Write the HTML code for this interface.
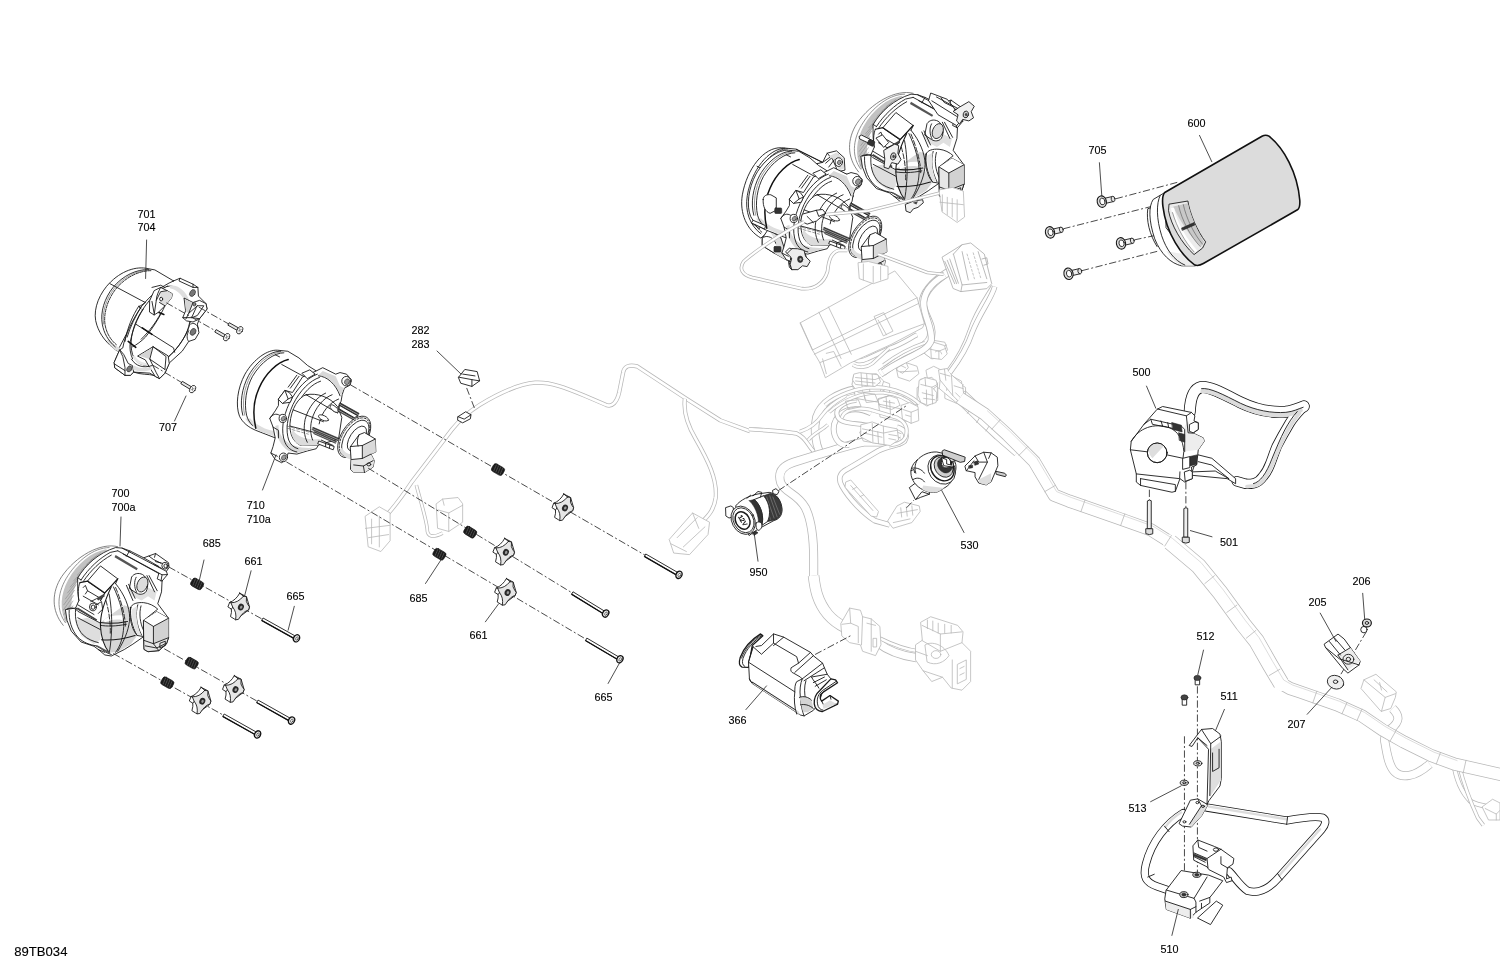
<!DOCTYPE html>
<html><head><meta charset="utf-8"><title>89TB034</title>
<style>
html,body{margin:0;padding:0;background:#fff}
svg{display:block;will-change:transform}
text{font-family:"Liberation Sans",Arial,sans-serif;font-size:10.8px;fill:#000;stroke:#000;stroke-width:.12px}
path,line,ellipse,circle,polyline,polygon,rect{vector-effect:non-scaling-stroke;stroke-linecap:round;stroke-linejoin:round}
.k{fill:none;stroke:#1a1a1a;stroke-width:.9}
.k2{fill:none;stroke:#111;stroke-width:1.3}
.kt{fill:none;stroke:#555;stroke-width:.6}
.w{fill:#fff;stroke:#1a1a1a;stroke-width:.9}
.f{fill:#fff;stroke:#1a1a1a;stroke-width:.9}
.fd{fill:#cfcfcf;stroke:#1a1a1a;stroke-width:.9}
.fn{fill:#dedede;stroke:none}
.fl{fill:#ededed;stroke:none}
.b{fill:#333;stroke:#222;stroke-width:.6}
.g{fill:none;stroke:#b8b8b8;stroke-width:.8}
.gw{fill:#fff;stroke:#b8b8b8;stroke-width:.8}
.gl{fill:none;stroke:#cfcfcf;stroke-width:.7}
.d{fill:none;stroke:#2a2a2a;stroke-width:.85;stroke-dasharray:7.3 2.4 2 2.4;stroke-linecap:butt}
.l{fill:none;stroke:#222;stroke-width:.8}
</style></head><body>
<svg width="1500" height="972" viewBox="0 0 1500 972">
<rect width="1500" height="972" fill="#fff" stroke="none"/>
<!-- 05_harnA.svg -->
<g id="harnA" transform="translate(350,300) scale(0.308642)">
<path d="M215 600 C225 640 245 700 250 740 C250 770 270 770 300 755" fill="none" stroke="#b8b8b8" stroke-width="3.6" style="stroke-linecap:butt"/>
<path d="M215 600 C225 640 245 700 250 740 C250 770 270 770 300 755" fill="none" stroke="#fff" stroke-width="2.1" style="stroke-linecap:butt"/>
<path d="M95 720 C130 690 160 650 200 590 L330 420 C350 395 380 365 420 340 C470 310 540 272 600 268 C650 265 700 285 760 310 L830 340 C850 348 865 330 872 300 L885 235 C888 215 905 208 930 215 L1090 320 L1200 390 L1296 425" fill="none" stroke="#b8b8b8" stroke-width="4.2" style="stroke-linecap:butt"/>
<path d="M95 720 C130 690 160 650 200 590 L330 420 C350 395 380 365 420 340 C470 310 540 272 600 268 C650 265 700 285 760 310 L830 340 C850 348 865 330 872 300 L885 235 C888 215 905 208 930 215 L1090 320 L1200 390 L1296 425" fill="none" stroke="#fff" stroke-width="2.7" style="stroke-linecap:butt"/>
<path d="M1085 320 C1080 360 1090 400 1120 450 C1160 520 1190 580 1185 640 C1180 680 1160 700 1140 720" fill="none" stroke="#b8b8b8" stroke-width="4.2" style="stroke-linecap:butt"/>
<path d="M1085 320 C1080 360 1090 400 1120 450 C1160 520 1190 580 1185 640 C1180 680 1160 700 1140 720" fill="none" stroke="#fff" stroke-width="2.7" style="stroke-linecap:butt"/>
<path class="gw" d="M280 660 L300 645 L350 640 L365 660 L365 720 L320 750 L285 740 Z"/>
<path class="g" d="M285 680 L320 690 L365 665 M320 690 L320 750 M300 645 L305 665"/>
<path class="gw" d="M50 700 L95 670 L130 690 L130 780 L100 815 L60 800 Z"/>
<path class="g" d="M70 710 L70 790 M95 700 L95 800 M50 740 L130 730 M60 770 L125 760"/>
<path class="gw" d="M1035 775 L1110 690 L1165 720 L1160 760 L1100 825 L1050 820 Z"/>
<path class="g" d="M1060 770 L1125 705 M1080 800 L1150 735 M1040 790 L1090 815 M1110 690 L1130 740"/>
</g>
<!-- 06_harnDE.svg -->
<g id="harnD" transform="translate(760,380) scale(0.185185)">
<path d="M-60 265 C80 275 160 280 200 290 C250 310 260 360 290 385" fill="none" stroke="#b8b8b8" stroke-width="4.4" style="stroke-linecap:butt"/>
<path d="M-60 265 C80 275 160 280 200 290 C250 310 260 360 290 385" fill="none" stroke="#fff" stroke-width="2.8" style="stroke-linecap:butt"/>
<path d="M520 50 C420 70 330 120 305 200 C285 280 300 340 325 400" fill="none" stroke="#b8b8b8" stroke-width="8.5" style="stroke-linecap:butt"/>
<path d="M520 50 C420 70 330 120 305 200 C285 280 300 340 325 400" fill="none" stroke="#fff" stroke-width="6.9" style="stroke-linecap:butt"/>
<path d="M760 335 L560 335 C480 350 400 380 325 400 L180 445 C120 465 95 500 112 555 C135 610 200 610 245 690 C280 760 290 860 290 972 L290 1100" fill="none" stroke="#b8b8b8" stroke-width="9.0" style="stroke-linecap:butt"/>
<path d="M760 335 L560 335 C480 350 400 380 325 400 L180 445 C120 465 95 500 112 555 C135 610 200 610 245 690 C280 760 290 860 290 972 L290 1100" fill="none" stroke="#fff" stroke-width="7.4" style="stroke-linecap:butt"/>
<path d="M600 180 C500 130 420 170 400 240 C390 300 420 360 480 350" fill="none" stroke="#b8b8b8" stroke-width="6.0" style="stroke-linecap:butt"/>
<path d="M600 180 C500 130 420 170 400 240 C390 300 420 360 480 350" fill="none" stroke="#fff" stroke-width="4.4" style="stroke-linecap:butt"/>
<path d="M740 255 C785 268 800 300 780 330 C760 352 700 352 640 382 L470 482 C430 502 420 532 442 572 C480 642 560 722 620 760 L700 782" fill="none" stroke="#b8b8b8" stroke-width="5.5" style="stroke-linecap:butt"/>
<path d="M740 255 C785 268 800 300 780 330 C760 352 700 352 640 382 L470 482 C430 502 420 532 442 572 C480 642 560 722 620 760 L700 782" fill="none" stroke="#fff" stroke-width="3.9" style="stroke-linecap:butt"/>
<path d="M520 110 C440 120 400 160 420 200 C440 240 520 230 600 250 L760 300" fill="none" stroke="#b8b8b8" stroke-width="5.0" style="stroke-linecap:butt"/>
<path d="M520 110 C440 120 400 160 420 200 C440 240 520 230 600 250 L760 300" fill="none" stroke="#fff" stroke-width="3.4" style="stroke-linecap:butt"/>
<path class="gw" d="M465 550 L490 540 L640 710 L630 740 L600 735 L460 580 Z"/><path class="g" d="M490 570 L610 705 M500 590 L520 580 M540 630 L560 620"/>
<path class="gw" d="M690 760 L740 680 L780 660 L860 680 L865 710 L820 770 L720 800 Z"/><path class="g" d="M740 720 L850 700 M760 690 L765 740 M790 685 L795 735 M820 680 L825 730 M720 770 L810 750"/>
<path class="gw" d="M500 20 L620 -10 L700 20 L700 80 L640 120 L520 100 Z"/>
<path class="gw" d="M640 100 L760 70 L850 110 L850 180 L780 230 L650 200 Z"/>
<path class="g" d="M640 130 L780 160 L850 130 M780 160 L780 230 M700 110 L705 190 M520 50 L640 70 L700 40 M560 30 L565 100"/>
<path class="gw" d="M540 280 L610 250 L730 270 L740 320 L680 350 L560 330 Z"/>
<path class="g" d="M560 300 L680 320 L740 295 M620 265 L625 340 M660 270 L665 345"/>
<path class="gw" d="M850 40 L900 10 L960 40 L960 110 L900 140 L850 110 Z"/>
<path class="g" d="M870 60 L940 80 M880 90 L950 100 M900 10 L905 140"/>
<path d="M1030 40 C1100 100 1150 150 1200 200 L1296 290 L1400 380" fill="none" stroke="#b8b8b8" stroke-width="15.0" style="stroke-linecap:butt"/>
<path d="M1030 40 C1100 100 1150 150 1200 200 L1296 290 L1400 380" fill="none" stroke="#fff" stroke-width="13.4" style="stroke-linecap:butt"/>
<path class="gw" d="M1000 40 L1060 10 L1110 40 L1110 100 L1060 125 L1000 100 Z"/><path class="g" d="M1000 60 L1060 85 L1110 60 M1060 85 L1060 125 M1150 130 L1120 180 M1200 180 L1170 230 M1250 230 L1220 275"/>
</g>
<g id="harnE" transform="translate(780,270) scale(0.185185)">
<path d="M1155 90 C1120 150 1060 230 1030 330 C1000 420 950 500 915 545" fill="none" stroke="#b8b8b8" stroke-width="6.5" style="stroke-linecap:butt"/>
<path d="M1155 90 C1120 150 1060 230 1030 330 C1000 420 950 500 915 545" fill="none" stroke="#fff" stroke-width="4.9" style="stroke-linecap:butt"/>
<path d="M910 10 C830 60 775 120 770 180 C772 240 830 300 815 360 C800 420 700 440 600 520 L540 560" fill="none" stroke="#b8b8b8" stroke-width="8.5" style="stroke-linecap:butt"/>
<path d="M910 10 C830 60 775 120 770 180 C772 240 830 300 815 360 C800 420 700 440 600 520 L540 560" fill="none" stroke="#fff" stroke-width="6.9" style="stroke-linecap:butt"/>
<path d="M740 350 C700 370 660 400 600 420 L470 480 C430 500 400 490 390 460" fill="none" stroke="#b8b8b8" stroke-width="5.0" style="stroke-linecap:butt"/>
<path d="M740 350 C700 370 660 400 600 420 L470 480 C430 500 400 490 390 460" fill="none" stroke="#fff" stroke-width="3.4" style="stroke-linecap:butt"/>
<path class="gw" d="M110 285 L620 5 L740 150 L780 290 L770 312 L600 402 L380 502 L245 582 L215 500 L175 432 Z"/>
<path class="g" d="M175 432 L740 150 M185 455 L750 180 M215 500 L780 290 M110 285 L175 430 M210 228 L330 478 M262 200 L385 455 M510 250 L560 230 L610 330 L560 355 Z M530 270 L575 350 M250 450 L290 440 L330 520 M230 480 L250 560"/>
<path class="gw" d="M780 400 L830 380 L890 390 L905 430 L880 470 L820 480 L780 450 Z"/>
<path class="g" d="M800 410 L860 425 L900 405 M860 425 L860 475 M830 385 L835 420"/>
<path class="gw" d="M790 540 L830 520 L870 540 L980 600 L990 680 L950 715 L860 640 L800 600 Z"/>
<path class="g" d="M870 540 L860 640 M880 580 L960 640 L990 620 M960 640 L955 700 M910 570 L900 650"/>
<path class="gw" d="M760 590 L820 580 L850 610 L850 690 L790 700 L755 670 Z"/>
<path class="g" d="M770 620 L830 630 L850 610 M830 630 L830 695 M790 650 L830 655"/>
<path class="gw" d="M630 530 L680 500 L740 520 L750 560 L700 600 L640 580 Z"/>
<path class="gw" d="M400 570 L520 560 L560 600 L540 660 L420 660 L390 620 Z"/>
<path class="g" d="M410 600 L540 610 M440 570 L445 655 M480 565 L485 660 M650 550 L740 545"/>
</g>
<!-- 06b_harnP.svg -->
<g id="harnP" transform="translate(800,340) scale(0.138889)">
<path d="M600 180 C680 120 780 60 900 20" fill="none" stroke="#bcbcbc" stroke-width="3.6" style="stroke-linecap:butt"/>
<path d="M600 180 C680 120 780 60 900 20" fill="none" stroke="#fff" stroke-width="2.1" style="stroke-linecap:butt"/>
<path d="M620 215 C700 150 800 95 920 55" fill="none" stroke="#bcbcbc" stroke-width="3.6" style="stroke-linecap:butt"/>
<path d="M620 215 C700 150 800 95 920 55" fill="none" stroke="#fff" stroke-width="2.1" style="stroke-linecap:butt"/>
<path d="M380 180 C420 205 480 200 520 170 L640 60" fill="none" stroke="#bcbcbc" stroke-width="3.6" style="stroke-linecap:butt"/>
<path d="M380 180 C420 205 480 200 520 170 L640 60" fill="none" stroke="#fff" stroke-width="2.1" style="stroke-linecap:butt"/>
<path d="M0 660 C60 640 120 600 160 540 C200 480 260 440 330 400" fill="none" stroke="#bcbcbc" stroke-width="4.0" style="stroke-linecap:butt"/>
<path d="M0 660 C60 640 120 600 160 540 C200 480 260 440 330 400" fill="none" stroke="#fff" stroke-width="2.5" style="stroke-linecap:butt"/>
<path d="M60 720 C100 670 160 650 200 610" fill="none" stroke="#bcbcbc" stroke-width="3.6" style="stroke-linecap:butt"/>
<path d="M60 720 C100 670 160 650 200 610" fill="none" stroke="#fff" stroke-width="2.1" style="stroke-linecap:butt"/>
<path d="M300 560 C320 500 400 480 500 500 L700 560 C760 590 780 640 760 700 C740 740 700 750 640 760" fill="none" stroke="#bcbcbc" stroke-width="4.0" style="stroke-linecap:butt"/>
<path d="M300 560 C320 500 400 480 500 500 L700 560 C760 590 780 640 760 700 C740 740 700 750 640 760" fill="none" stroke="#fff" stroke-width="2.5" style="stroke-linecap:butt"/>
<path d="M210 520 C300 440 440 370 600 380 C700 390 780 430 830 480" fill="none" stroke="#bcbcbc" stroke-width="3.6" style="stroke-linecap:butt"/>
<path d="M210 520 C300 440 440 370 600 380 C700 390 780 430 830 480" fill="none" stroke="#fff" stroke-width="2.1" style="stroke-linecap:butt"/>
<path d="M180 470 C260 400 400 340 560 340 C680 345 800 400 860 460" fill="none" stroke="#bcbcbc" stroke-width="4.0" style="stroke-linecap:butt"/>
<path d="M180 470 C260 400 400 340 560 340 C680 345 800 400 860 460" fill="none" stroke="#fff" stroke-width="2.5" style="stroke-linecap:butt"/>
<path class="gw" d="M390 245 L430 235 L560 250 L580 300 L540 335 L400 320 L380 290 Z"/>
<path class="g" d="M400 270 L540 285 L580 270 M440 240 L445 322 M480 245 L485 328 M520 248 L525 332 M400 295 L540 310"/>
<path class="gw" d="M860 290 L900 270 L980 290 L990 330 L960 350 L985 380 L980 450 L920 470 L870 450 L850 400 Z"/>
<path class="g" d="M870 320 L950 340 L990 320 M900 270 L905 330 M880 380 L960 400 M890 420 L970 430 M950 340 L955 460 M910 360 L912 460"/>
<path class="gw" d="M1000 215 L1060 205 L1090 250 L1170 320 L1180 400 L1140 440 L1100 400 L1010 290 Z"/>
<path class="g" d="M1010 240 L1080 260 M1090 250 L1100 400 M1110 330 L1175 350 M1120 380 L1160 420 M1040 210 L1050 290"/>
<path class="gw" d="M440 610 L520 590 L600 620 L700 640 L710 720 L650 760 L520 740 L440 700 Z"/>
<path class="g" d="M450 640 L600 670 L700 650 M600 620 L605 750 M520 600 L525 735 M560 660 L565 745 M640 680 L700 690 M640 710 L690 720 M460 670 L590 700"/>
<path class="gw" d="M730 470 L790 450 L850 480 L855 580 L800 600 L740 570 Z"/>
<path class="g" d="M740 500 L800 520 L850 500 M800 520 L800 600 M760 540 L795 550"/>
<path class="gw" d="M900 40 L960 15 L1040 40 L1060 100 L1020 140 L940 130 L900 100 Z"/>
<path class="g" d="M910 60 L1000 80 L1050 60 M1000 80 L1000 135 M940 30 L945 125 M975 85 C990 70 1020 80 1020 100"/>
<path class="g" d="M560 430 L640 400 L700 420 L720 470 L660 500 L580 480 Z M600 440 L680 455 M620 410 L625 490 M700 170 L760 150 L780 200 L740 240 L700 220 Z M720 180 L760 200 M460 380 L540 390 L560 440 L480 450 Z M330 440 L420 430 L440 480 L350 500 Z"/>
</g>
<!-- 07_trunkR.svg -->
<g id="trunkR">
<g transform="translate(1300,640) scale(0.185185)">
<path d="M500 370 C540 410 540 440 490 480 C460 500 450 520 460 560 C470 620 480 680 510 710 C550 750 620 740 700 670" fill="none" stroke="#b8b8b8" stroke-width="9.0" style="stroke-linecap:butt"/>
<path d="M500 370 C540 410 540 440 490 480 C460 500 450 520 460 560 C470 620 480 680 510 710 C550 750 620 740 700 670" fill="none" stroke="#fff" stroke-width="7.5" style="stroke-linecap:butt"/>
<path d="M830 660 C840 740 870 820 920 870 C950 890 980 890 1010 900" fill="none" stroke="#b8b8b8" stroke-width="5.0" style="stroke-linecap:butt"/>
<path d="M830 660 C840 740 870 820 920 870 C950 890 980 890 1010 900" fill="none" stroke="#fff" stroke-width="3.5" style="stroke-linecap:butt"/>
<path d="M860 680 C880 760 900 830 960 960 L990 1000" fill="none" stroke="#b8b8b8" stroke-width="4.0" style="stroke-linecap:butt"/>
<path d="M860 680 C880 760 900 830 960 960 L990 1000" fill="none" stroke="#fff" stroke-width="2.5" style="stroke-linecap:butt"/>
<path class="gw" d="M330 260 L345 215 L410 185 L520 280 L515 310 L490 370 L440 385 Z"/><path class="g" d="M345 215 L460 310 L440 385 M460 310 L515 290 M400 215 L470 280 M430 230 L440 270"/>
<path class="gw" d="M985 900 L1040 860 L1080 880 L1080 972 L1020 972 Z"/><path class="g" d="M1000 910 L1060 940 L1080 920 M1060 940 L1060 972"/>
</g>
<path d="M960.0 398.0 L984.9 414.3 L1007.2 434.6 L1034.3 461.7 L1054.1 495.1 L1068.9 501.0 L1115.8 517.3 L1150.4 529.6 L1170.1 542.0 L1198.5 566.0 L1220.7 593.3 L1243.0 624.2 L1256.5 641.0 L1270.1 664.9 L1281.2 683.5 L1290.0 688.5 L1300.0 691.9 L1337.0 704.8 L1362.0 715.9 L1382.4 729.8 L1403.7 741.9 L1431.5 755.7 L1454.6 764.1 L1505.0 775.5" fill="none" stroke="#b8b8b8" stroke-width="13" style="stroke-linecap:butt;stroke-linejoin:round"/>
<path d="M960.0 398.0 L984.9 414.3 L1007.2 434.6 L1034.3 461.7 L1054.1 495.1 L1068.9 501.0 L1115.8 517.3 L1150.4 529.6 L1170.1 542.0 L1198.5 566.0 L1220.7 593.3 L1243.0 624.2 L1256.5 641.0 L1270.1 664.9 L1281.2 683.5 L1290.0 688.5 L1300.0 691.9 L1337.0 704.8 L1362.0 715.9 L1382.4 729.8 L1403.7 741.9 L1431.5 755.7 L1454.6 764.1 L1505.0 775.5" fill="none" stroke="#fff" stroke-width="11.5" style="stroke-linecap:butt;stroke-linejoin:round"/>
<path d="M1170.1 542.0 L1198.5 566.0 L1220.7 593.3 L1243.0 624.2 L1256.5 641.0 L1270.1 664.9 L1281.2 683.5" fill="none" stroke="#b8b8b8" stroke-width="16.5" style="stroke-linecap:butt;stroke-linejoin:round"/>
<path d="M1170.1 542.0 L1198.5 566.0 L1220.7 593.3 L1243.0 624.2 L1256.5 641.0 L1270.1 664.9 L1281.2 683.5" fill="none" stroke="#fff" stroke-width="15" style="stroke-linecap:round;stroke-linejoin:round"/>
<path d="M987.4 410.8 L1009.7 431.1 L1036.8 458.2 L1056.6 491.6 L1071.4 497.5 L1118.3 513.8 L1152.9 526.1 L1172.6 538.5 L1201.0 562.5 L1223.2 589.8 L1245.5 620.7 L1259.0 637.5 L1272.6 661.4 L1283.7 680.0 L1292.5 685.0 L1302.5 688.4 L1339.5 701.3 L1364.5 712.4 L1384.9 726.3 L1406.2 738.4 L1434.0 752.2 L1457.1 760.6" class="gl"/>
<path d="M991.9 429.0 L1000.2 419.9 M1019.1 455.2 L1027.8 446.5 M1044.8 491.6 L1055.5 485.3 M1080.9 511.7 L1085.0 500.0 M1120.6 525.6 L1124.8 513.9 M1164.8 546.0 L1171.4 535.5 M1204.8 583.6 L1214.4 575.7 M1226.8 612.4 L1236.9 605.1 M1246.3 638.2 L1255.9 630.4 M1269.2 675.5 L1279.9 669.2 M1312.8 702.9 L1316.8 691.2 M1342.0 713.8 L1347.0 702.5 M1357.0 720.5 L1362.0 709.1 M1390.0 741.2 L1396.1 730.5 M1436.3 764.0 L1440.5 752.4 M1463.3 772.4 L1466.0 760.3 " class="g"/>
</g>
<!-- 08_harnH.svg -->
<g id="harnH" transform="translate(720,580) scale(0.216049)">
<path d="M433 -20 C440 40 450 100 500 160 C530 195 560 210 580 220" fill="none" stroke="#b8b8b8" stroke-width="11.5" style="stroke-linecap:butt"/>
<path d="M433 -20 C440 40 450 100 500 160 C530 195 560 210 580 220" fill="none" stroke="#fff" stroke-width="10.0" style="stroke-linecap:butt"/>
<path d="M730 290 C780 330 840 350 910 360" fill="none" stroke="#b8b8b8" stroke-width="9.0" style="stroke-linecap:butt"/>
<path d="M730 290 C780 330 840 350 910 360" fill="none" stroke="#fff" stroke-width="7.5" style="stroke-linecap:butt"/>
<path d="M740 270 C800 300 850 320 920 330" fill="none" stroke="#b8b8b8" stroke-width="4.0" style="stroke-linecap:butt"/>
<path d="M740 270 C800 300 850 320 920 330" fill="none" stroke="#fff" stroke-width="2.5" style="stroke-linecap:butt"/>
<path class="gw" d="M560 200 L600 130 L650 140 L660 170 L700 180 L740 215 L745 300 L720 350 L660 330 L650 300 L600 290 L565 260 Z"/>
<path class="g" d="M600 130 L605 200 L565 205 M605 200 L640 215 L640 290 M660 170 L655 300 M700 180 L700 330 M710 270 L725 270 L725 310 L710 310 Z M680 200 L720 210"/>
<path class="gw" d="M930 195 L975 170 L1100 210 L1125 240 L1120 290 L1160 330 L1160 470 L1120 510 L1070 500 L1030 450 L980 470 L940 420 L905 370 L905 300 L935 280 Z"/>
<path class="g" d="M935 210 L1020 250 L1120 240 M1020 250 L1020 330 L935 280 M1020 330 L1120 290 M950 300 C980 280 1040 300 1060 350 C1040 380 1000 400 960 380 Z M1075 370 L1075 500 M1100 390 L1140 370 L1140 460 L1100 480 Z M940 420 L1030 450 M960 185 L960 225 M985 190 L985 235 M1010 200 L1010 245 M1040 205 L1040 245 M1070 210 L1070 245 M905 330 L960 350 M1110 410 L1130 400 M1110 440 L1130 430"/>
<ellipse class="g" cx="1000" cy="345" rx="22" ry="18"/>
</g>
<!-- 10_p701.svg -->
<defs><g id="p701_sym" transform="translate(85,255) scale(0.108025)">
<!-- back cylinder -->
<path class="w" d="M560 122 C450 105 310 160 200 290 C110 400 70 540 110 650 C140 740 200 820 300 890 L400 700 L600 400 L820 240 L650 140 Z"/>
<path class="fn" d="M200 790 C230 840 270 880 310 895 L330 860 C290 850 250 820 225 780 Z"/>
<path class="k" d="M590 135 C480 130 350 190 260 300 C180 400 140 530 160 640 C175 720 210 790 280 850"/>
<path class="k" style="stroke-dasharray:3 1.2" d="M610 145 C500 145 375 205 285 315 C210 410 170 540 185 640 C195 710 230 780 290 830"/>
<path class="kt" d="M600 140 C490 138 362 198 272 308 C195 405 155 535 172 640"/>
<path class="k" d="M230 265 L520 420 L560 440"/>
<!-- flange outer body -->
<path class="w" d="M820 240 L880 215 L1000 270 L1045 300 L1050 380 L1120 450 L1130 500 L1060 590 L1040 640 L1055 720 L1020 780 L960 800 L900 890 L780 1000 L740 1094 L690 1144 L650 1124 L600 1094 L450 1084 L420 1114 L370 1114 L275 1044 L270 994 L320 880 L350 860 C370 740 440 600 520 480 C600 380 700 290 820 240 Z"/>
<!-- inner opening -->
<path class="w" d="M760 290 C680 320 580 420 500 560 C430 690 410 820 440 920 C470 1010 560 1040 640 1020 C740 990 860 880 930 740 C980 640 990 520 960 440 C930 350 850 270 760 290 Z"/>
<path class="fn" d="M780 285 C860 270 930 330 965 420 L930 440 C900 370 850 320 790 310 Z"/>
<path class="fn" style="fill:#e8e8e8" d="M440 940 C480 1020 560 1040 640 1020 L620 1000 C560 1010 490 990 460 930 Z"/>
<path class="k" d="M520 480 C470 560 420 660 390 760 M500 470 C440 560 390 680 370 800 M540 500 C480 590 440 700 420 800 C410 860 420 920 440 960"/>
<path class="k" d="M740 470 C700 560 640 660 560 760 C520 800 480 830 440 850 M700 540 C660 620 600 700 520 780"/>
<path class="k" d="M470 640 L820 860 L830 900 M560 440 L500 480 L520 500"/>
<path class="k2" style="stroke-width:1.6" d="M530 675 L620 735 M400 800 L470 855 M680 530 L730 550"/>
<path class="k" d="M960 440 C1000 540 980 660 920 760 C860 860 780 950 700 1000"/>
<!-- top tab boss -->
<path class="k" d="M880 215 L870 240 L1000 300 L1045 300 M1000 300 L1000 270"/>
<ellipse class="b" style="fill:#777" cx="995" cy="352" rx="24" ry="34" transform="rotate(30 995 352)"/>
<ellipse class="b" style="fill:#777" cx="1000" cy="712" rx="24" ry="34" transform="rotate(30 1000 712)"/>
<ellipse class="b" style="fill:#777" cx="410" cy="1054" rx="24" ry="34" transform="rotate(30 410 1054)"/>
<path class="k" d="M980 640 C1000 620 1040 640 1050 680 M960 800 C940 780 940 740 960 700"/>
<!-- upper-left inner tab -->
<path class="w" d="M600 420 L640 330 L700 300 L760 330 L810 360 L800 400 L740 470 L680 530 L640 555 L600 530 Z"/>
<path class="fn" d="M700 340 L760 330 L810 360 L800 400 L740 470 L690 440 Z"/>
<path class="k" d="M700 300 C680 340 660 380 660 420 L640 555 M660 420 L700 340 L760 330 M620 430 L640 540 M740 470 L690 440"/>
<ellipse class="w" cx="705" cy="408" rx="14" ry="17"/>
<path class="k" d="M620 300 L700 280 L740 300"/>
<!-- right bracket -->
<path class="w" d="M920 400 L1000 440 L1060 420 L1120 450 L1130 500 L1060 590 L1000 620 L940 610 L905 580 L930 520 Z"/>
<path class="fn" style="fill:#d4d4d4" d="M925 410 L1000 445 L960 540 L935 520 Z"/>
<path class="w" d="M1040 470 L1100 470 L1040 560 L990 580 Z"/>
<path class="k" d="M1000 440 L960 540 L935 590 M960 540 L1040 470 M905 580 L990 580 L1060 590"/>
<ellipse class="b" style="fill:#888" cx="1012" cy="455" rx="14" ry="18"/>
<!-- lower bracket -->
<path class="w" d="M490 934 L630 849 L770 934 L780 1004 L740 1094 L690 1144 L650 1124 L600 1044 L560 974 Z"/>
<path class="fn" style="fill:#d4d4d4" d="M500 932 L622 862 L600 964 Z"/>
<path class="k" d="M630 849 L600 964 L660 1090 L690 1144 M630 849 L750 940 L740 1060 M600 964 L740 1060"/>
<!-- lower-left tab -->
<path class="w" d="M320 880 L270 994 L275 1044 L370 1114 L420 1114 L450 1084 L440 1024 L400 1004 L360 924 Z"/>
<path class="k" d="M320 880 L350 940 L370 1040 L370 1114 M275 1010 L370 1070"/>
<path class="k" d="M450 1084 C520 1110 580 1100 640 1114 M430 964 C470 1030 540 1050 620 1024"/>
<path class="fn" d="M445 1060 C500 1085 570 1080 620 1060 L610 1035 C560 1055 500 1050 450 1020 Z"/>
<ellipse class="b" style="fill:#777" cx="410" cy="1054" rx="22" ry="30" transform="rotate(30 410 1054)"/>
</g></defs>
<use href="#p701_sym"/>
<g id="p701lines">
<path class="l" d="M146.6 240 L145.6 278.5"/>
<path class="l" d="M186 396 L174.5 421"/>
</g>
<!-- 11_p710.svg -->
<defs><g id="p710_sym" transform="translate(232,345) scale(0.108025)">
<!-- back cylinder -->
<path class="w" d="M420 48 C330 40 200 130 120 270 C50 400 30 560 70 660 C100 720 150 760 220 790 L400 860 L560 500 L780 240 L700 190 L620 120 L520 60 Z"/>
<path class="fn" d="M120 680 C160 740 230 790 320 820 L400 850 L410 800 C330 790 230 750 170 680 Z"/>
<path class="k" d="M450 58 C360 55 235 140 155 280 C90 400 70 540 100 650 M480 72 C390 72 270 155 190 290 C130 400 110 540 135 650 C145 690 165 720 190 745"/>
<path class="kt" d="M465 65 C375 63 252 148 172 285 C110 400 90 540 118 650"/>
<path class="k2" style="stroke-width:1.5" d="M520 135 C420 160 310 260 250 400 C200 510 190 640 220 770"/>
<path class="k" d="M460 180 L680 300 M400 90 L440 110"/>
<!-- flange body -->
<path class="w" d="M780 240 L840 210 L960 270 L1000 255 L1060 270 L1105 320 L1095 370 L1040 400 L1020 460 L1010 520 L900 760 L780 960 L700 980 L600 1010 L520 1000 L500 1060 L460 1090 L400 1060 L360 1000 L380 940 L400 860 L380 760 L350 680 L400 610 L430 560 L430 500 L490 420 L560 440 L650 300 Z"/>
<path class="fn" style="fill:#d8d8d8" d="M800 280 C880 285 960 350 1010 470 L1020 430 L1040 400 L1000 380 L960 290 L840 240 Z"/>
<path class="fn" style="fill:#d8d8d8" d="M400 750 C410 850 450 930 520 980 L600 1000 L700 975 L760 950 C660 960 540 940 470 860 C440 820 430 780 430 740 Z"/>
<path class="k" d="M790 270 C700 300 600 400 530 540 C470 670 450 800 490 900 C510 950 550 980 600 990"/>
<path class="k" d="M810 300 C720 330 630 420 565 550 C510 670 495 790 525 880 C540 920 570 950 610 960 M800 285 C880 290 960 360 1000 470"/>
<path class="k" d="M820 335 C740 360 660 440 600 560 C550 670 540 780 565 860"/>
<!-- clips -->
<path class="w" d="M650 260 L720 230 L770 270 L700 310 Z M430 500 L490 420 L530 440 L560 480 L540 530 L470 540 Z"/>
<path class="k" d="M490 420 L520 500 L470 540 M520 500 L560 480 M620 290 L540 400 M600 280 L520 390"/>
<!-- bosses -->
<ellipse class="w" cx="1058" cy="335" rx="42" ry="44"/>
<ellipse class="b" style="fill:#999" cx="1065" cy="340" rx="22" ry="28" transform="rotate(30 1065 340)"/>
<ellipse class="w" cx="470" cy="680" rx="34" ry="38"/>
<ellipse class="b" style="fill:#999" cx="475" cy="682" rx="18" ry="24" transform="rotate(30 475 682)"/>
<path class="k" d="M350 680 C370 640 410 630 440 650 M380 760 L430 790 L430 860 M360 1000 L420 1030"/>
<ellipse class="w" cx="476" cy="1040" rx="38" ry="40"/>
<ellipse class="b" style="fill:#999" cx="480" cy="1042" rx="20" ry="26" transform="rotate(30 480 1042)"/>
<g transform="translate(166.6,370.3)">
<!-- cone -->
<path class="w" d="M520 90 C450 110 380 220 370 360 C365 450 400 530 470 560 L620 560 L820 500 L850 300 L810 200 C740 110 620 70 520 90 Z"/>
<path class="fn" style="fill:#dcdcdc" d="M380 440 C400 520 440 555 480 562 L620 560 L700 540 L640 500 C540 510 440 490 400 420 Z"/>
<path class="k" d="M760 90 C680 120 600 210 570 330 C555 400 560 460 580 510 M700 75 C620 110 540 200 510 320 C495 400 500 470 530 530 M820 130 C740 160 660 250 640 360"/>
<path class="k" d="M520 90 L810 260 M400 230 L680 340 M370 380 L600 440"/>
<ellipse class="w" cx="780" cy="220" rx="48" ry="22" transform="rotate(40 780 220)"/>
<ellipse class="w" cx="680" cy="305" rx="50" ry="22" transform="rotate(25 680 305)"/>
<path class="kt" style="stroke-dasharray:3 2" d="M340 380 L560 440 M345 400 L540 455"/>
<!-- rods -->
<path class="b" d="M835 165 L1010 262 L1000 285 L825 188 Z M825 222 L965 302 L955 322 L815 243 Z M585 392 L820 492 L812 515 L577 415 Z M600 432 L800 520 L792 540 L592 452 Z"/>
<path d="M832 180 L1005 276 M822 235 L960 314 M582 405 L816 505 M597 444 L797 532" stroke="#ddd" stroke-width=".6" fill="none"/>
<path class="w" d="M830 190 L1000 287 L965 302 L828 222 Z M640 520 L780 570 L770 600 L630 545 Z"/>
<path class="k" d="M660 510 L770 560 M700 540 L700 570 M740 550 L735 585"/>
<!-- disc -->
<ellipse class="w" cx="965" cy="480" rx="118" ry="215" transform="rotate(33 965 480)"/>
<ellipse class="k" style="stroke-dasharray:2 1.5" cx="968" cy="482" rx="108" ry="200" transform="rotate(33 968 482)"/>
<ellipse class="k" cx="975" cy="486" rx="95" ry="180" transform="rotate(33 975 486)"/>
<ellipse class="k" cx="990" cy="495" rx="65" ry="130" transform="rotate(33 990 495)"/>
<path class="fn" d="M830 600 C860 660 900 690 940 690 L935 640 C900 640 870 620 850 580 Z"/>
<!-- connector -->
<path class="w" d="M930 570 L1010 460 L1060 440 L1160 500 L1165 620 L1120 640 L1150 700 L1140 760 L1060 810 L960 810 L930 780 L935 690 Z"/>
<path class="fn" style="fill:#dadada" d="M1040 560 L1160 500 L1165 620 L1120 640 L1040 680 Z"/>
<path class="fn" style="fill:#e6e6e6" d="M940 690 L1040 680 L1120 640 L1150 700 L1140 760 L1060 810 L960 810 L935 780 Z"/>
<path class="k" d="M930 570 L1040 560 L1160 500 M1040 560 L1040 680 L1120 640 M1040 680 L940 690 M1010 460 C990 500 990 540 1000 565 M960 740 L1050 750 L1140 700 M1050 750 L1060 810"/>
<ellipse class="k" cx="1100" cy="735" rx="18" ry="14"/>
</g>
</g></defs>
<use href="#p710_sym"/>
<g id="p710lines">
<path class="l" d="M276 455 L262.5 490"/>
</g>
<!-- 12_p700.svg -->
<defs><g id="lamp700">
<!-- lens rim -->
<path d="M720 62 C560 20 330 150 200 340 C110 480 100 650 215 790 L300 900 L400 500 L700 100 Z" fill="#fff" stroke="none"/>
<path d="M610 85 C480 110 350 210 260 370 C190 500 180 640 240 765 L310 700 C270 620 295 480 355 360 C415 250 505 150 625 95 Z" fill="#c2c2c2" stroke="none"/>
<path d="M560 120 L470 185 M520 150 L430 225 M480 190 L385 275 M445 230 L345 325 M410 275 L310 380 M380 320 L280 435 M355 365 L255 490 M335 415 L235 545 M320 465 L220 600 M310 515 L215 650 M305 565 L218 695 M305 610 L228 735" stroke="#8c8c8c" stroke-width=".6" fill="none"/>
<path d="M720 62 C560 20 330 150 200 340 C110 480 100 650 215 790" fill="none" stroke="#666" stroke-width=".8"/>
<path d="M640 70 C500 70 340 190 240 360 C160 500 150 650 235 765" fill="none" stroke="#777" stroke-width=".8"/>
<!-- housing silhouette -->
<path class="w" d="M350 350 C420 230 540 120 700 70 L760 75 L830 100 L960 165 L1070 125 L1190 210 L1195 255 L1170 290 L1180 320 L1130 380 L1125 480 L1090 590 L1190 724 L1190 904 L1170 964 L1100 1024 L1000 1034 L965 1014 L960 894 L860 964 L780 1014 L700 1054 L660 1074 L600 1064 L540 1014 L500 984 L380 944 L290 844 L250 744 L235 644 L330 630 L360 560 L350 480 Z"/>
<!-- gray shading -->
<path class="fn" style="fill:#d6d6d6" d="M560 764 L640 704 L780 604 L840 624 L820 764 L900 884 L840 964 L720 1034 L640 1044 L580 924 Z"/>
<path class="fn" style="fill:#dedede" d="M330 744 L380 884 L500 964 L560 924 L560 770 L440 720 Z"/>
<path class="fn" style="fill:#e0e0e0" d="M800 440 L860 520 L940 560 L1000 520 L1060 560 L1080 480 L1000 440 L900 480 Z"/>
<path class="fn" style="fill:#fff" d="M600 764 C640 740 700 730 760 740 L790 700 C720 690 640 700 590 740 Z"/>
<!-- cover arcs -->
<path class="k" d="M380 370 C450 260 550 170 650 115 L720 100 M350 350 L380 370 M400 385 C470 280 560 195 660 140"/>
<!-- rails -->
<path class="k" d="M760 75 L1170 290 M720 100 L1130 322 L1180 320 M770 130 L1100 310 M830 100 L800 150 M960 165 L1100 245 M1010 150 L1050 180 L1120 215 M1070 125 L1060 160"/>
<path d="M700 140 L905 262 L895 280 L690 160 Z" fill="#555" stroke="none"/>
<path class="k" d="M1130 322 L1120 380 M1100 310 L1085 360 L1130 380"/>
<ellipse class="w" cx="1158" cy="238" rx="30" ry="32"/><ellipse class="k" cx="1163" cy="240" rx="16" ry="18"/>
<path class="k" d="M1070 200 L1130 215 M1060 230 L1125 262"/>
<!-- top-left boxes -->
<path class="w" d="M440 380 L560 240 L720 360 L600 490 Z"/>
<path class="k" style="stroke-width:1.2" d="M440 380 L600 490 L720 360 M370 395 L440 380 M600 490 L560 560"/>
<path class="k" d="M400 440 L420 420 L440 470 L420 500 M370 395 C350 430 350 520 360 560 M440 470 L560 540 M400 520 L540 600 M350 600 L500 690 M330 630 L520 740"/>
<path d="M520 540 L590 500 L600 520 L540 560 Z M340 635 L520 745 L530 735 L350 625 Z" fill="#444" stroke="none"/>
<ellipse class="w" cx="490" cy="620" rx="32" ry="36"/><ellipse class="k" cx="492" cy="622" rx="18" ry="20"/>
<path class="k" d="M520 600 L570 570 L580 640 L540 680 M470 570 L520 545"/>
<!-- dome -->
<path class="k" style="stroke-width:1.1" d="M660 434 C600 560 555 700 560 800 C565 900 600 990 640 1044"/>
<path class="k" d="M700 404 C780 500 830 620 830 720 C828 800 800 900 720 1030"/>
<path class="k" d="M680 434 C740 560 780 700 775 800 C770 900 745 980 700 1040 M640 500 C660 600 670 760 660 880 C655 950 650 1000 640 1044"/>
<path class="k" style="stroke-dasharray:5 2" d="M700 440 C750 560 790 700 790 800 M610 560 C640 660 655 780 650 880"/>
<path class="k" style="stroke-width:1.1" d="M560 764 C620 775 700 775 810 754 M570 924 C640 930 760 920 880 884"/>
<path class="k" d="M560 790 C620 800 700 800 800 780 M700 404 L720 360"/>
<!-- scoop -->
<path class="k" d="M270 650 C265 740 290 830 350 900 C400 950 460 970 520 980 M330 640 C320 730 340 820 400 880 C440 920 500 940 540 950 M250 640 C290 620 330 630 350 660 L560 770 M350 720 L560 830 M520 980 L560 1000 M540 1014 L600 1040 M560 1000 C580 1020 620 1050 660 1060"/>
<path d="M520 985 L640 1050 L650 1040 L530 975 Z" fill="#555" stroke="none"/>
<!-- knob cylinder -->
<path class="w" d="M850 340 C870 310 910 300 950 320 C1000 350 1010 430 980 480 C960 505 920 510 890 490 L830 450 Z"/>
<ellipse class="w" style="fill:#dcdcdc" cx="948" cy="412" rx="48" ry="72" transform="rotate(22 948 412)"/>
<path class="k" d="M890 345 C870 380 870 440 895 485"/>
<path class="k" d="M990 330 L1060 480 M1010 330 L1085 470 M800 420 L860 560 M820 410 L880 540"/>
<!-- neck rings -->
<path class="w" d="M840 624 C850 590 900 575 960 580 C1010 585 1060 610 1090 640 L960 744 L960 894 L900 884 C850 830 820 720 840 624 Z"/>
<path class="k" d="M905 600 C880 680 890 780 940 880 M935 610 C915 680 925 770 960 840 M840 624 C830 700 850 800 900 884"/>
<path class="fn" style="fill:#e4e4e4" d="M850 640 C845 720 865 810 905 880 L935 875 C900 800 885 700 900 610 Z"/>
<!-- connector block -->
<path class="w" style="fill:#e6e6e6" d="M960 744 L1080 664 L1190 724 L1190 904 L1170 964 L1100 1024 L1000 1034 L965 1014 Z"/>
<path class="fn" style="fill:#fff" d="M960 744 L1080 664 L1190 724 L1050 800 Z"/>
<path class="fn" style="fill:#d2d2d2" d="M1050 800 L1190 724 L1190 904 L1050 960 Z"/>
<path class="k" d="M960 744 L1050 800 L1190 724 M1050 800 L1050 960 L1190 904 M965 930 L1050 960 M1050 960 L1100 1024 M975 980 L1080 1000 L1160 960 M1110 960 L1110 1000 L1160 975 L1160 940 Z"/>
</g></defs>
<use href="#lamp700" transform="translate(40,540) scale(0.108025)"/>
<g id="p700lines">
<path class="l" d="M121 517 L120 546"/>
</g>
<use href="#lamp700" transform="translate(835.4,86.6) scale(0.108025)"/>
<g id="asmB" transform="translate(830,70) scale(0.154321)">
<path class="w" d="M190 430 L205 422 L285 462 L275 485 L195 448 Z"/>
<rect class="b" x="245" y="455" width="42" height="34" rx="6" transform="rotate(25 266 472)"/>
<path class="w" d="M300 440 L340 420 L380 470 L350 500 Z"/>
<path class="w" style="fill:#f1f1f1" d="M350 520 L420 480 L445 490 L440 540 L460 580 L440 610 L400 600 L380 640 L350 630 L355 580 Z"/>
<ellipse class="fd" cx="410" cy="560" rx="17" ry="24" transform="rotate(15 410 560)"/>
<ellipse cx="412" cy="560" rx="8" ry="11" fill="#444"/>
<path class="w" d="M655 150 L760 190 L800 240 L850 330 L820 360 L700 290 L640 200 Z"/>
<path class="k" d="M690 175 L830 250 M660 200 L820 300 M720 180 L740 210 L800 240"/>
<path class="w" style="fill:#f1f1f1" d="M840 240 L900 205 L935 235 L915 270 L930 310 L900 330 L860 320 L840 350 L820 330 L830 290 L800 270 Z"/>
<ellipse class="fd" cx="880" cy="288" rx="17" ry="22" transform="rotate(15 880 288)"/>
<ellipse cx="882" cy="288" rx="8" ry="10" fill="#444"/>
<path class="w" style="fill:#f1f1f1" d="M490 870 L540 850 L600 840 L605 860 L570 890 L540 900 L520 925 L495 915 Z"/>
<path d="M535 860 L570 850 L560 872 Z" fill="#444"/>
</g>
<!-- 13_asmA.svg -->
<g id="asmA0" transform="translate(730,130) scale(0.154321)">
<!-- back cylinder (701) -->
<path class="w" d="M330 115 C220 110 110 250 80 420 C60 540 110 650 200 700 L300 620 L330 430 L480 250 L600 210 L430 125 Z"/>
<path class="k" d="M355 118 C250 120 140 260 112 425 C95 530 130 620 200 672"/>
<path class="k" style="stroke-dasharray:3 1.2" d="M372 122 C268 126 160 265 134 428 C118 525 145 610 206 662"/>
<path class="k" d="M430 125 L600 210 M140 600 L190 640 L230 560 M175 235 L330 320"/>
<!-- outer ring (701) -->
<path class="w" d="M500 232 L600 210 L630 150 L690 135 L740 180 L745 260 L700 270 L770 290 L820 300 L850 330 L840 370 L790 400 L800 430 L700 560 L640 600 L520 720 L480 780 L500 840 L440 900 L400 905 L380 850 L290 800 L210 750 L210 700 L250 640 L270 560 L210 500 L215 450 L260 420 L300 440 L360 350 L430 280 Z"/>
<path class="k" d="M520 245 C440 290 370 370 330 470 C300 560 300 640 330 700 M545 262 C470 300 400 380 365 480 C340 560 340 640 370 690"/>
<path class="k" d="M620 215 L660 180 L700 270 M640 240 L700 160 M630 150 L650 175 L600 210"/>
<path class="fn" d="M640 170 L690 145 L735 185 L740 250 L705 262 L690 200 Z"/>
<ellipse class="w" cx="705" cy="208" rx="24" ry="28"/><ellipse class="b" style="fill:#999" cx="708" cy="210" rx="12" ry="15" transform="rotate(30 708 210)"/>
<path class="w" d="M210 700 C230 680 270 690 290 720 L330 800 L290 800 L210 750 Z"/>
<path class="fn" d="M250 640 L330 700 L380 850 L290 800 L300 730 Z"/>
<path class="k" d="M250 640 L330 700 L380 850"/>
</g>
<g id="asmA">
<use href="#p710_sym" transform="translate(511,-200)"/>
</g>
<g id="asmAx" transform="translate(730,130) scale(0.154321)">
<!-- left pins / springs -->
<path class="w" d="M215 450 C215 425 240 415 265 420 L300 440 L300 520 L260 540 C230 530 212 500 215 450 Z"/>
<rect class="b" x="290" y="505" width="45" height="36" rx="6"/>
<rect class="b" x="285" y="755" width="45" height="36" rx="6"/>
<path class="w" d="M140 600 L150 585 L230 620 L225 640 Z"/>
<!-- cable clamp -->
<path class="w" d="M470 545 L560 520 L600 515 L620 540 L560 590 L500 610 L460 590 Z"/>
<path class="k" d="M500 560 L540 600 M560 520 L575 560 L620 540"/>
<!-- bottom knob -->
<path class="w" style="fill:#ececec" d="M440 770 L480 780 L490 820 L520 850 L500 885 L470 880 L440 905 L400 905 L390 870 L400 830 L370 800 L400 770 Z"/>
<path class="k" d="M400 905 L385 890 L380 860 L395 835 M370 800 L360 790 L385 765 L400 770"/>
<ellipse class="b" cx="455" cy="838" rx="17" ry="21"/>
<ellipse cx="457" cy="838" rx="7" ry="9" fill="#aaa"/>
</g>
<!-- 14_p600.svg -->
<g id="p600d">
<path class="d" d="M1115.7 198.8 L1179 181.9 M1063.3 228.8 L1151.2 206.5 M1134.3 239.9 L1160.5 234.3 M1081.8 270.7 L1157.4 251.3"/>
</g>
<g id="p600" transform="translate(1120,120) scale(0.154321)">
<!-- white rim -->
<path class="w" d="M290 470 L215 515 C185 560 185 650 225 770 C265 870 330 930 400 945 L490 945 L300 700 Z"/>
<path class="fl" d="M300 850 C330 900 370 935 410 945 L490 945 L420 870 Z"/>
<path class="k" d="M260 490 C235 540 235 640 270 750 C300 840 350 910 420 940 M195 570 L180 575 C170 650 190 740 240 820"/>
<!-- main face -->
<path d="M290 470 L920 105 Q945 92 965 105 C1060 180 1150 340 1165 520 Q1168 570 1150 582 L540 930 Q510 948 485 940 C400 880 300 740 278 560 Q270 490 290 470 Z" fill="#dcdcdc" stroke="#111" stroke-width="1.6"/>
<!-- recess -->
<path class="w" style="fill:#ececec" d="M320 545 L440 525 C450 600 500 720 555 790 L535 830 L480 872 C400 800 330 680 315 590 Z"/>
<path class="fn" style="fill:#c8c8c8" d="M345 560 L440 540 C455 610 500 720 545 790 L525 820 C460 760 390 660 345 560 Z"/>
<path d="M330 570 C350 680 420 800 485 860 L500 845 C440 780 370 670 350 570 Z" fill="#fff"/>
<path class="kt" d="M380 555 C400 650 460 760 520 820 M410 548 C430 640 480 740 535 805 M340 600 C370 700 420 790 480 855"/>
<path class="b" d="M400 700 L480 665 L485 680 L405 715 Z"/>
</g>
<g id="p600l"><path class="l" d="M1199.5 135.4 L1211.8 161.7"/><path class="l" d="M1099.4 162.7 L1101.9 197.3"/></g>
<defs><g id="bscrew">
<path class="w" style="fill:#eee" d="M2 -2.6 L11.5 -2.6 L11.5 2.6 L2 2.6 Z"/>
<ellipse class="w" style="fill:#e4e4e4" cx="11.6" cy="0" rx="1.9" ry="2.7"/>
<ellipse class="w" style="fill:#dcdcdc;stroke-width:1.1" cx="0" cy="0" rx="4.6" ry="5.8"/>
<ellipse class="w" cx=".6" cy="0" rx="2.6" ry="3.4"/>
</g></defs>
<use href="#bscrew" transform="translate(1101.8 201.6) rotate(-13)"/>
<use href="#bscrew" transform="translate(1050 232.4) rotate(-13)"/>
<use href="#bscrew" transform="translate(1121 243.4) rotate(-13)"/>
<use href="#bscrew" transform="translate(1068.5 273.8) rotate(-13)"/>
<!-- 15_p500.svg -->
<g id="loop500" transform="translate(1180,370) scale(0.108025)" fill="none" style="stroke-linecap:butt">
<path d="M90 390 C95 260 125 175 195 158 C270 145 400 218 560 300 C700 368 850 396 980 386 C1050 378 1100 352 1145 338" stroke="#1a1a1a" stroke-width="12" style="stroke-linecap:round"/>
<path d="M1150 330 C1120 365 1060 420 1015 493 C975 560 930 640 895 708 C870 770 850 830 835 868 C815 920 795 955 770 983 C745 1020 720 1040 685 1048 C655 1055 630 1056 605 1053 L525 1030" stroke="#1a1a1a" stroke-width="10.4" style="stroke-linecap:round"/>
<path d="M90 390 C95 260 125 175 195 158 C270 145 400 218 560 300 C700 368 850 396 980 386 C1050 378 1100 352 1145 338" stroke="#fff" stroke-width="10.4" style="stroke-linecap:round"/>
<path d="M1150 330 C1120 365 1060 420 1015 493 C975 560 930 640 895 708 C870 770 850 830 835 868 C815 920 795 955 770 983 C745 1020 720 1040 685 1048 C655 1055 630 1056 605 1053 L525 1030" stroke="#fff" stroke-width="8.8" style="stroke-linecap:round"/>
<path d="M210 195 C290 188 400 250 560 330 C700 396 850 425 980 415 C1040 408 1080 390 1115 372" stroke="#dcdcdc" stroke-width="4.6"/>
<path d="M1105 400 C1060 450 1030 500 990 570 C950 650 900 760 870 840 C845 900 815 960 785 1000 C755 1040 720 1065 685 1072 L620 1078" stroke="#dcdcdc" stroke-width="3.6"/>
<path class="k" d="M200 172 C280 162 400 228 560 308 C700 374 850 402 980 392 C1050 385 1100 358 1140 345"/>
<path class="k" d="M1085 385 C1040 435 1005 490 970 555 C930 630 885 740 850 825 C825 890 798 945 768 985 C740 1022 710 1045 680 1052"/>
</g>
<g id="p500" transform="translate(1110,370) scale(0.169753)">
<!-- small wires -->
<path class="w" d="M520 500 L600 520 L740 640 L740 670 L690 640 L480 620 Z"/>
<path class="k" d="M520 540 L600 560 L700 640 M490 600 L620 595 L700 640"/>
<!-- body -->
<path class="w" d="M280 230 L310 215 L480 250 L500 270 L495 300 L520 310 L520 350 L490 372 L550 400 L555 420 L520 470 L510 560 L480 572 L485 640 L440 660 L412 640 L385 715 L365 720 L180 680 L155 660 L155 612 L120 470 L125 420 L200 320 Z"/>
<path class="fl" d="M460 300 L490 372 L550 400 L555 420 L520 470 L440 480 L440 330 Z"/>
<path class="k" d="M280 230 L450 270 L480 250 M450 270 L460 370 L490 372 M200 320 L240 290 L420 330 L440 350 L440 480 M125 420 C170 340 260 310 350 340 C400 360 430 410 435 480 L430 520 L335 500 M120 470 L220 482 M155 612 L410 640 L412 600 M180 680 L180 640 M385 715 L385 675 L180 640 M240 290 L250 320 L400 350 M300 300 L310 330 M340 310 L345 335"/>
<circle class="w" cx="278" cy="488" r="58"/>
<path class="fn" d="M232 452 C250 430 290 425 320 445 L250 520 C230 500 225 475 232 452 Z"/>
<circle class="k" cx="278" cy="488" r="58"/>
<path class="b" d="M365 310 L420 325 L425 365 L370 350 Z M405 370 L440 380 L440 425 L410 415 Z M470 510 L512 500 L512 555 L470 565 Z"/>
<path class="w" d="M470 320 L500 305 L520 312 L520 350 L490 370 L470 362 Z M430 520 L470 510 L470 575 L430 585 Z M440 600 L470 590 L485 600 L485 640 L445 655 Z"/>
<!-- screws 501 -->
<path class="d" d="M232 705 L232 768 M447 660 L447 812"/>
<path class="w" style="fill:#eee" d="M222 770 Q232 762 243 770 L243 935 L222 935 Z M437 815 Q447 808 458 815 L458 985 L437 985 Z"/>
<path class="w" style="fill:#ddd" d="M213 935 L252 935 L252 965 Q232 975 213 965 Z M428 985 L467 985 L467 1015 Q447 1025 428 1015 Z"/>
</g>
<g id="p500l"><path class="l" d="M1146.5 386.1 L1155.8 408.2"/><path class="l" d="M1190.4 530.6 L1212 536.8"/></g>
<!-- 16_clip282.svg -->
<g id="clip282" transform="translate(350,300) scale(0.308642)">
<path class="d" d="M378 285 L405 355"/>
<path class="w" d="M352 250 L372 225 L412 232 L420 262 L395 280 L360 270 Z"/>
<path class="k" d="M352 250 L395 258 L420 262 M395 258 L395 280 M365 240 L405 246"/>
<path class="w" d="M350 378 L375 362 L392 372 L390 385 L365 398 L350 390 Z"/>
<path class="k" d="M350 378 L370 386 L392 372"/>
</g>
<g><path class="l" d="M437 351 L461 374"/></g>
<!-- 17_p950_530.svg -->
<g id="d950"><path class="d" d="M778.5 490.5 L906 406"/></g>
<g id="p950" transform="translate(700,460) scale(0.123457)">
<!-- tabs -->
<path class="w" d="M210 385 L250 372 L270 385 L270 460 L235 470 L212 455 Z"/>
<path class="w" d="M590 245 L615 232 L640 255 L625 280 L595 275 Z"/>
<!-- body -->
<path class="w" d="M290 370 C330 320 400 290 470 275 L560 262 C620 270 660 330 665 400 C665 450 640 480 600 490 L470 560 L400 610 Z"/>
<path class="b" style="fill:#3a3a3a" d="M515 290 L570 270 C625 280 660 335 662 400 C662 445 640 475 605 485 L545 500 C575 450 570 350 515 290 Z"/>
<path d="M540 300 L600 470 M565 290 L625 460 M590 300 L645 440 M525 330 L570 480" stroke="#999" stroke-width=".5" fill="none"/>
<path class="w" d="M440 320 L515 290 C570 350 575 450 545 500 L500 530 C520 470 500 370 440 320 Z"/>
<path class="b" d="M400 330 L440 320 C500 370 520 470 500 530 L470 555 C485 480 460 390 400 330 Z"/>
<path class="k" d="M430 290 L470 255 L500 262 L490 300 M380 310 L410 285"/>
<!-- face -->
<ellipse class="w" cx="350" cy="488" rx="92" ry="120" transform="rotate(-28 350 488)"/>
<ellipse class="k" cx="352" cy="488" rx="80" ry="106" transform="rotate(-28 352 488)"/>
<ellipse class="k" style="stroke-width:1.5" cx="345" cy="490" rx="56" ry="74" transform="rotate(-28 345 490)"/>
<path class="w" d="M455 510 C470 495 495 500 500 520 C505 545 490 570 470 570 C455 565 450 530 455 510 Z"/>
<path class="b" d="M420 590 L450 575 L470 590 L440 610 Z"/>
<text transform="translate(346 490) rotate(58) scale(8.1)" text-anchor="middle" style="font-size:6.6px;font-weight:bold;fill:#111" y="2.3">12V</text>
</g>
<g id="p530" transform="translate(880,430) scale(0.123457)">
<path class="d" d="M215 630 L275 568"/>
<!-- connector stub -->
<path class="w" d="M240 465 L300 420 L400 470 L400 520 L330 545 L290 562 Z"/>
<path class="k" d="M290 562 L340 500 L400 520"/>
<!-- body -->
<path class="w" d="M300 245 C340 200 400 175 460 178 L560 200 C610 230 625 290 610 340 C600 400 560 450 520 470 L470 500 C420 515 360 500 310 460 C260 420 240 360 255 310 C265 280 280 260 300 245 Z"/>
<path class="fn" d="M350 450 L520 470 L470 500 C430 512 380 505 340 480 Z"/>
<path class="k" d="M255 310 C300 300 340 320 360 350 M270 400 C300 380 340 390 360 420 M300 245 C280 280 280 320 290 350 M250 330 L275 320 L280 345"/>
<ellipse class="w" cx="500" cy="320" rx="105" ry="125" transform="rotate(-35 500 320)"/>
<ellipse class="k" style="stroke-width:1.4" cx="505" cy="310" rx="88" ry="108" transform="rotate(-35 505 310)"/>
<ellipse class="fd" cx="515" cy="300" rx="70" ry="88" transform="rotate(-35 515 300)"/>
<ellipse class="b" cx="525" cy="285" rx="55" ry="66" transform="rotate(-35 525 285)"/>
<ellipse class="w" cx="535" cy="265" rx="38" ry="42"/>
<!-- key bar -->
<path class="fd" d="M505 170 L520 160 L690 220 L685 255 L650 262 L510 205 Z"/>
<path class="w" d="M500 225 L540 240 L540 275 L580 285 L590 250 L600 255 L590 300 L520 290 Z"/>
<!-- key head -->
<path class="w" d="M690 290 L770 210 L840 180 L900 185 L950 220 L955 290 L900 420 L860 445 L800 430 L770 380 L770 345 L700 330 Z"/>
<path class="fn" d="M800 400 L900 350 L900 420 L860 445 L805 430 Z"/>
<path class="k" d="M840 180 L870 260 L800 400 M770 210 L800 260 L870 260 M900 185 L880 230 M700 330 L760 250"/>
<path class="b" d="M760 260 L790 250 L800 275 L770 285 Z M720 290 L750 285 L750 305 L725 310 Z"/>
<path class="fd" d="M940 335 L1010 350 Q1035 365 1015 378 L945 360 Z"/>
</g>
<g id="l950"><path class="l" d="M754.3 534.1 L758 561.2"/><path class="l" d="M941.7 490.5 L964 532.5"/></g>
<!-- 18_p205.svg -->
<g id="p205" transform="translate(1180,560) scale(0.246914)">
<path class="d" d="M755 290 L640 482"/>
<path class="w" d="M585 340 L640 300 L665 320 L730 410 L725 425 L680 458 L660 440 L590 355 Z"/>
<path class="fl" d="M640 385 L690 355 L730 410 L680 445 Z"/>
<path class="k" d="M640 385 L690 355 M640 385 L680 445 M605 330 L650 385 M625 315 L668 365 M590 355 L645 400 L725 425"/>
<ellipse class="k" cx="682" cy="402" rx="22" ry="20"/><ellipse class="k" cx="682" cy="402" rx="9" ry="8"/>
<ellipse class="w" style="fill:#eee" cx="630" cy="495" rx="34" ry="27" transform="rotate(20 630 495)"/>
<ellipse class="k" cx="630" cy="493" rx="9" ry="7"/>
<ellipse class="w" cx="745" cy="282" rx="13" ry="13"/>
<ellipse class="w" style="fill:#ddd;stroke-width:1.2" cx="757" cy="255" rx="18" ry="16"/>
<ellipse class="k" cx="757" cy="255" rx="7" ry="6"/>
</g>
<g id="l205">
<path class="l" d="M1362.7 593.3 L1364.7 619.3"/><path class="l" d="M1320.2 613.1 L1336 641.5"/><path class="l" d="M1307.2 714.3 L1331.9 687.2"/>
<path class="l" d="M1203.5 650.1 L1197.8 674.8"/><path class="l" d="M1224.4 709.4 L1214.6 732.8"/>
</g>
<!-- 19_p510.svg -->
<g id="p510" transform="translate(1120,790) scale(0.185185)">
<path class="d" d="M418 -560 L418 470 M348 -290 L348 560"/>
<!-- cable loop -->
<g fill="none" style="stroke-linecap:butt">
<path id="c510a" d="M470 95 L900 165 C980 150 1060 140 1095 150 C1118 165 1108 190 1090 212 L860 470 C800 540 740 560 690 545 C650 520 620 470 590 440" stroke="#1a1a1a" stroke-width="8.2"/>
<path d="M470 95 L900 165 C980 150 1060 140 1095 150 C1118 165 1108 190 1090 212 L860 470 C800 540 740 560 690 545 C650 520 620 470 590 440" stroke="#fff" stroke-width="6.6"/>
<path d="M480 90 L900 158 M860 462 L1080 212" stroke="#dcdcdc" stroke-width="2.4"/>
<path d="M340 125 C250 180 170 280 140 400 C122 470 140 500 200 520 L270 545" stroke="#1a1a1a" stroke-width="8.2"/>
<path d="M340 125 C250 180 170 280 140 400 C122 470 140 500 200 520 L270 545" stroke="#fff" stroke-width="6.6"/>
<path d="M330 122 C300 140 270 165 245 200" stroke="#dcdcdc" stroke-width="2.4"/>
</g>
<path class="k" d="M905 145 L900 185 M850 450 L875 485 M240 195 L265 225 M150 470 L185 455"/>
<!-- plate -->
<path class="w" d="M320 180 L380 55 L420 48 L475 80 L440 140 L385 200 L340 195 Z"/>
<path class="fn" d="M440 85 L475 80 L440 140 L385 200 L375 185 Z"/>
<path class="k" d="M440 85 L375 185 M420 48 L440 85"/>
<ellipse class="k" cx="418" cy="68" rx="8" ry="6"/><ellipse class="k" cx="348" cy="172" rx="8" ry="6"/><ellipse class="k" cx="448" cy="88" rx="8" ry="6"/>
<!-- connector -->
<path class="w" d="M395 300 L420 270 L510 305 L545 320 L615 370 L610 400 L580 420 L575 480 L600 470 L605 490 L575 500 L560 470 L480 430 L470 415 L400 380 Z"/>
<path class="k" d="M400 340 L470 370 L475 420 M470 370 L545 320 M420 270 L425 310 L470 330 M580 420 L545 400 L545 360 M400 360 L460 390"/>
<path class="b" d="M400 345 L465 372 L465 382 L400 356 Z"/>
<ellipse class="w" cx="518" cy="322" rx="14" ry="9"/>
<!-- box 510 -->
<path class="w" d="M420 690 L520 600 L555 622 L490 725 Z"/>
<path class="w" d="M250 540 L330 435 L480 460 L555 490 L500 562 L485 580 L485 610 L440 640 L410 660 L380 692 L250 645 L242 590 Z"/>
<path class="fl" d="M245 600 L380 640 L400 690 L380 692 L250 645 Z"/>
<path class="k" d="M250 540 L400 585 L410 605 L410 660 M400 585 L470 470 M245 600 L380 645 L410 630 M380 645 L380 692 M430 600 L485 580 M440 612 L440 640"/>
<ellipse class="fd" cx="345" cy="565" rx="22" ry="16"/><ellipse class="b" cx="345" cy="565" rx="11" ry="8"/>
<ellipse class="fd" cx="415" cy="458" rx="22" ry="14"/><ellipse class="b" cx="415" cy="458" rx="11" ry="7"/>
<!-- bracket 511 -->
<path class="w" d="M375 -242 L440 -327 L500 -332 L540 -302 L547 -262 L547 -62 L540 -22 L480 58 L470 78 L478 -220 L420 -282 L390 -237 Z"/>
<path class="fn" d="M490 -222 L545 -262 L545 -52 L485 38 Z"/>
<path class="k" d="M440 -327 L490 -250 L545 -290 M490 -250 L485 30 M500 -200 L500 -100 L535 -120 L535 -220 M420 -282 L470 -240"/>
<!-- washers -->
<ellipse class="w" style="fill:#ddd" cx="420" cy="-144" rx="22" ry="14"/><ellipse class="k" cx="420" cy="-144" rx="9" ry="5"/>
<ellipse class="w" style="fill:#ddd" cx="347" cy="-39" rx="22" ry="14"/><ellipse class="k" cx="347" cy="-39" rx="9" ry="5"/>
<!-- screws 512 -->
<path class="w" d="M408 -600 L430 -600 L430 -568 L408 -568 Z M338 -495 L360 -495 L360 -458 L338 -458 Z"/>
<ellipse class="b" style="fill:#444" cx="418" cy="-605" rx="19" ry="14"/><ellipse class="b" style="fill:#444" cx="348" cy="-500" rx="19" ry="14"/>
</g>
<g id="l510"><path class="l" d="M1150.6 801.7 L1181.1 785.9"/><path class="l" d="M1178.3 909.4 L1171.9 935.4"/></g>
<!-- 20_p366.svg -->
<g id="d366"><path class="d" d="M815.1 654.5 L851.8 635.1"/></g>
<g id="p366" transform="translate(730,640) scale(0.0925926)">
<!-- end cap -->
<path class="w" style="stroke-width:1.3" d="M330 -66 C240 -10 150 80 110 190 C95 240 100 280 130 292 L200 296 L240 60 L355 -45 Z"/>
<path class="k" d="M345 -50 C260 10 175 95 140 200 C128 245 135 275 160 285 M338 -58 C250 0 162 88 125 195"/>
<!-- body -->
<path class="w" d="M250 74 L340 154 L470 34 L470 -66 L580 -31 L870 134 L900 170 L1000 250 L1020 300 L1050 370 L1090 420 L1000 560 L950 700 L900 760 L800 820 L760 810 L700 770 L240 470 L210 420 L200 240 Z"/>
<path class="fn" d="M240 470 L700 770 L760 810 L740 770 L700 745 L250 450 Z"/>
<path class="k" d="M250 74 L200 240 L700 560 M470 34 L720 180 L740 250 M240 455 L700 750 M470 -66 L340 60 L280 70 M580 -31 L470 60 M210 420 C215 445 225 460 245 462"/>
<path class="k" d="M870 134 L740 250 L660 300 C650 330 660 350 690 360 L760 400 L780 420 M900 170 L700 350 M1000 250 L780 420 L720 450 C700 480 700 520 700 560 C690 640 695 720 720 800 M1020 300 L800 440 M1050 370 L880 400"/>
<path class="k" d="M780 420 C760 470 750 540 760 620 C765 700 780 770 800 820 M820 440 C800 500 800 580 820 660 M880 400 C900 440 940 480 960 520 M900 460 L1020 400 M920 500 L1040 430"/>
<!-- inner dome shading -->
<path class="fn" style="fill:#d4d4d4" d="M750 620 C780 600 840 610 880 650 L900 740 L840 780 L790 780 Z"/>
<path class="k" d="M750 620 C790 600 850 615 880 650 M760 700 C800 690 860 700 900 740"/>
<!-- hook -->
<path class="w" style="stroke-width:1.3" d="M1090 420 L1140 430 L1162 462 L1010 560 C975 585 962 620 990 660 L1080 600 L1170 660 L1162 692 L1000 772 C950 775 915 740 910 690 C905 630 930 580 970 545 Z"/>
<path class="k" d="M1150 445 L1000 545 C955 580 935 630 945 690 C950 730 975 755 1005 758 M990 660 L1010 700 L1162 692 M1080 600 L1090 640"/>
<path class="fn" d="M1000 700 L1080 650 L1150 690 L1010 745 Z"/>
</g>
<g id="l366"><path class="l" d="M766.5 685.9 L745.9 709.6"/></g>
<!-- 30_harnJ.svg -->
<g id="harnJ" transform="translate(730,180) scale(0.246914)">
<path d="M870 385 C810 420 780 460 785 510 C790 560 820 600 815 650 C800 700 700 720 620 780" fill="none" stroke="#b4b4b4" stroke-width="7.0" style="stroke-linecap:butt"/>
<path d="M870 385 C810 420 780 460 785 510 C790 560 820 600 815 650 C800 700 700 720 620 780" fill="none" stroke="#fff" stroke-width="5.5" style="stroke-linecap:butt"/>
<path d="M1072 432 C1060 480 1010 540 980 620 C960 680 920 740 890 780" fill="none" stroke="#b4b4b4" stroke-width="5.5" style="stroke-linecap:butt"/>
<path d="M1072 432 C1060 480 1010 540 980 620 C960 680 920 740 890 780" fill="none" stroke="#fff" stroke-width="4.0" style="stroke-linecap:butt"/>
<path d="M300 170 C200 220 100 290 55 330 C35 360 50 385 90 395 L290 440 C340 445 380 420 395 370 C400 320 410 295 440 285 L475 285" fill="none" stroke="#b4b4b4" stroke-width="3.6" style="stroke-linecap:butt"/>
<path d="M300 170 C200 220 100 290 55 330 C35 360 50 385 90 395 L290 440 C340 445 380 420 395 370 C400 320 410 295 440 285 L475 285" fill="none" stroke="#fff" stroke-width="2.1" style="stroke-linecap:butt"/>
<path d="M390 140 L560 125 L900 40" fill="none" stroke="#b4b4b4" stroke-width="3.4" style="stroke-linecap:butt"/>
<path d="M390 140 L560 125 L900 40" fill="none" stroke="#fff" stroke-width="1.9" style="stroke-linecap:butt"/>
<path d="M600 300 L800 375 L865 382" fill="none" stroke="#b4b4b4" stroke-width="3.4" style="stroke-linecap:butt"/>
<path d="M600 300 L800 375 L865 382" fill="none" stroke="#fff" stroke-width="1.9" style="stroke-linecap:butt"/>
<path class="gw" d="M848 40 L900 30 L945 45 L950 150 L920 172 L860 130 Z"/>
<path class="g" d="M860 60 L860 125 M880 70 L880 140 M900 75 L900 150 M920 80 L920 165 M850 90 L945 100"/>
<path class="gw" d="M520 335 L560 330 L640 350 L640 400 L580 420 L525 400 Z"/>
<path class="g" d="M540 340 L540 405 M580 350 L580 415 M610 350 L610 405"/>
<path class="gw" style="stroke:#aaa" d="M860 312 L940 262 L975 255 L1030 300 L1060 420 L1040 440 L935 452 L905 440 Z"/>
<path class="g" style="stroke:#aaa" d="M905 300 L940 262 M905 300 L940 425 L1040 415 M940 425 L935 452 M940 290 L965 405 M1005 290 L1040 400 M870 330 L910 420 M880 325 L918 420 M890 320 L925 418 M1020 320 L1040 315 L1045 340 L1028 345"/>
<path class="gl" style="stroke:#aaa;stroke-dasharray:2 2" d="M960 300 L990 400 M985 295 L1015 395"/>
</g>
<!-- 50_hw.svg -->
<g id="hw">
<defs>
<g id="spring"><rect x="-6.2" y="-4.3" width="12.4" height="8.6" rx="2.6" fill="#1b1b1b" stroke="#111" stroke-width=".6"/>
<path d="M-3.8 -3.2 L-3 3.2 M-1.4 -3.4 L-.6 3.4 M1 -3.4 L1.8 3.4 M3.4 -3.2 L4.2 3" fill="none" stroke="#777" stroke-width=".55" stroke-dasharray="1.5 1"/></g>
<g id="knob">
<path class="w" d="M-1.2 -13.9 L5.6 -10.4 L8.6 -.2 L7.6 3 L-5.3 12.7 L-6.7 11.8 L-10.4 9.5 Q-9 5 -9.5 2 L-13 -.2 L-11.3 -4.6 Q-5 -7 -1.2 -13.9Z"/>
<path class="w" style="fill:#e6e6e6" d="M2.5 -10.9 L5.6 -10.4 Q4.5 -5 7.2 -2.1 L8.6 -.2 L7.6 3 Q3 3.5 -2.5 12.3 L-5.3 12.7 Q-4 5 -8.1 .2 L-10 -4.4 Q-3 -4 2.5 -10.9Z"/>
<path class="k" d="M-10 -4.4 L-11.3 -4.6 M-8.1 .2 L-9.5 2 M2.5 -10.9 L-1.2 -13.9"/>
<ellipse cx="0" cy="0" rx="2.9" ry="3.5" fill="#2a2a2a" transform="rotate(25)"/>
<ellipse cx=".3" cy="0" rx="1.2" ry="1.6" fill="#999" transform="rotate(25)"/>
</g>
<g id="lscrew">
<path class="w" d="M0 -1.4 L36 -1.4 L36 1.4 L0 1.4 Z"/>
<path d="M0 1.4 L36 1.4" stroke="#111" stroke-width="1.3" fill="none"/>
<ellipse cx="38.8" cy="0" rx="2.9" ry="3.8" fill="#e8e8e8" stroke="#111" stroke-width="1.3"/>
<ellipse cx="39.2" cy="0" rx="1.1" ry="1.8" fill="#fff" stroke="#222" stroke-width=".6"/>
</g>
<g id="sscrew">
<path class="w" style="fill:#e6e6e6" d="M0 -1.4 L10 -1.4 L10 1.4 L0 1.4 Z"/>
<ellipse class="w" cx="12.5" cy="0" rx="2.6" ry="4"/>
<path class="kt" d="M11.5 -1.5 L13.5 1.5 M13.5 -1.5 L11.5 1.5"/>
</g>
</defs>
<path class="d" d="M350.4 384.8 L645.4 555.4"/>
<use href="#spring" transform="translate(498.0 469.6) rotate(30.0)"/>
<use href="#knob" transform="translate(565.0 507.9) rotate(0.0)"/>
<use href="#lscrew" transform="translate(645.4 555.4) rotate(30.0)"/>
<path class="d" d="M286.4 461.9 L586.5 639.5"/>
<use href="#spring" transform="translate(439.4 554.2) rotate(30.6)"/>
<use href="#knob" transform="translate(507.6 592.5) rotate(0.0)"/>
<use href="#lscrew" transform="translate(586.5 639.5) rotate(30.6)"/>
<path class="d" d="M368.1 468.1 L572.6 593.2"/>
<use href="#spring" transform="translate(470.2 532.1) rotate(31.5)"/>
<use href="#knob" transform="translate(505.9 552.3) rotate(0.0)"/>
<use href="#lscrew" transform="translate(572.6 593.2) rotate(31.5)"/>
<path class="d" d="M168.9 567.0 L262.7 619.4"/>
<use href="#spring" transform="translate(197.1 583.9) rotate(29.2)"/>
<use href="#knob" transform="translate(240.9 607.1) rotate(0.0)"/>
<use href="#lscrew" transform="translate(262.7 619.4) rotate(29.2)"/>
<path class="d" d="M164.3 648.8 L257.7 701.5"/>
<use href="#spring" transform="translate(191.7 663.1) rotate(29.4)"/>
<use href="#knob" transform="translate(235.5 689.6) rotate(0.0)"/>
<use href="#lscrew" transform="translate(257.7 701.5) rotate(29.4)"/>
<path class="d" d="M113.3 653.5 L223.8 715.4"/>
<use href="#spring" transform="translate(167.3 682.7) rotate(29.3)"/>
<use href="#knob" transform="translate(202.3 701.2) rotate(0.0)"/>
<use href="#lscrew" transform="translate(223.8 715.4) rotate(29.3)"/>
<path class="d" d="M198.8 307.1 L228.9 324.1"/>
<use href="#sscrew" transform="translate(228.9 324.1) rotate(29.5)"/>
<path class="d" d="M166.4 302.8 L215.8 331.0"/>
<use href="#sscrew" transform="translate(215.8 331.0) rotate(29.7)"/>
<path class="d" d="M152.5 365.0 L181.9 382.7"/>
<use href="#sscrew" transform="translate(181.9 382.7) rotate(31.0)"/>
<path class="l" d="M204.0 560.0 L199.4 580.0"/>
<path class="l" d="M251.1 570.8 L244.9 594.7"/>
<path class="l" d="M294.3 606.3 L288.1 630.2"/>
<path class="l" d="M425.5 583.5 L441.7 558.8"/>
<path class="l" d="M485.4 621.8 L498.5 604.0"/>
<path class="l" d="M608.1 683.5 L619.7 662.7"/>
</g>
<!-- 90_labels.svg -->
<g id="labels">
<text x="137.5" y="218">701</text><text x="137.5" y="231.2">704</text>
<text x="159" y="430.5">707</text>
<text x="111.5" y="496.5">700</text><text x="111.5" y="510.5">700a</text>
<text x="202.7" y="546.6">685</text>
<text x="244.5" y="565">661</text>
<text x="286.5" y="600">665</text>
<text x="246.8" y="509">710</text><text x="246.8" y="522.5">710a</text>
<text x="411.5" y="334.4">282</text><text x="411.5" y="347.6">283</text>
<text x="409.5" y="602">685</text>
<text x="469.5" y="639">661</text>
<text x="594.5" y="701">665</text>
<text x="749.5" y="576">950</text>
<text x="728.5" y="724">366</text>
<text x="960.5" y="549">530</text>
<text x="1187.5" y="127">600</text>
<text x="1088.5" y="154">705</text>
<text x="1132.5" y="376">500</text>
<text x="1220" y="545.5">501</text>
<text x="1308.5" y="606">205</text>
<text x="1352.5" y="585">206</text>
<text x="1287.5" y="728">207</text>
<text x="1196.5" y="640">512</text>
<text x="1220.5" y="700">511</text>
<text x="1128.5" y="812">513</text>
<text x="1160.5" y="953">510</text>
<text x="14.3" y="955.8" style="font-size:13.1px">89TB034</text>
</g>
</svg>
</body></html>
